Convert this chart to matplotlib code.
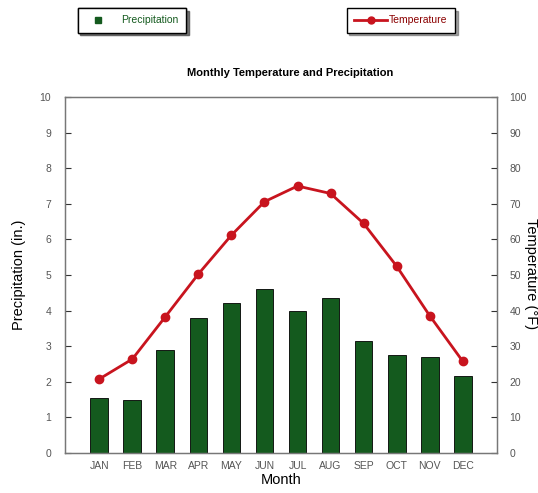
import matplotlib.pyplot as plt
import numpy as np
from matplotlib.lines import Line2D

plt.rcParams.update({
    "font.family": ["Liberation Sans", "DejaVu Sans"],
    "font.size": 8,
})

months = ["JAN", "FEB", "MAR", "APR", "MAY", "JUN",
          "JUL", "AUG", "SEP", "OCT", "NOV", "DEC"]
precip = [1.55, 1.48, 2.88, 3.80, 4.21, 4.61, 4.00, 4.36, 3.14, 2.75, 2.71, 2.15]
temp = [20.8, 26.4, 38.3, 50.3, 61.2, 70.6, 75.0, 72.9, 64.5, 52.5, 38.6, 25.8]

bar_color = "#145a1e"
line_color = "#c8141e"
tick_gray = "#555555"

fig = plt.figure(figsize=(5.38, 4.93), dpi=100)
ax = fig.add_axes([0.1208, 0.0811, 0.803, 0.7221])
x = np.arange(len(months))

ax.bar(x, precip, width=0.54, color=bar_color, edgecolor="black", linewidth=0.6, zorder=2)
ax.set_xlim(-1.04, 12.04)
ax.set_ylim(0, 10)
ax.set_yticks(range(0, 11))
ax.set_xticks(x)
ax.set_xticklabels(months)
ax.tick_params(axis="x", length=0, pad=6, labelsize=7.5, labelcolor=tick_gray)
ax.tick_params(axis="y", direction="in", length=4, pad=10, labelsize=7.5,
               labelcolor=tick_gray, color="#333333")
ax.set_xlabel("Month", fontsize=10.5, labelpad=1)
ax.set_ylabel("Precipitation (in.)", fontsize=10.5, labelpad=10)
for s in ax.spines.values():
    s.set_color("#777777")
    s.set_linewidth(1.0)

ax2 = ax.twinx()
ax2.plot(x, temp, color=line_color, linewidth=2, marker="o", markersize=6,
         markerfacecolor=line_color, markeredgecolor=line_color, zorder=3)
ax2.set_ylim(0, 100)
ax2.set_yticks(range(0, 101, 10))
ax2.tick_params(axis="y", direction="in", length=4, pad=9, labelsize=7.5,
                labelcolor=tick_gray, color="#333333")
for s in ax2.spines.values():
    s.set_color("#777777")

# right axis label sits at the very edge of the figure
fig.text(0.974, 0.445, "Temperature (°F)", rotation=270, ha="left", va="center",
         fontsize=10.5)

fig.text(0.54, 0.852, "Monthly Temperature and Precipitation", ha="center",
         va="center", fontsize=8, fontweight="bold")

# two separate legends at the top
h1 = Line2D([], [], linestyle="none", marker="s", markersize=5,
            markerfacecolor=bar_color, markeredgecolor=bar_color)
h2 = Line2D([], [], color=line_color, linewidth=2, marker="o", markersize=5)
leg1 = fig.legend([h1], ["Precipitation"], loc="center", bbox_to_anchor=(0.245, 0.959),
                  frameon=True, fancybox=False, shadow=True, edgecolor="black",
                  fontsize=7.5, labelcolor=bar_color, handlelength=2.6,
                  borderpad=0.7, borderaxespad=0, handletextpad=0.9)
leg2 = fig.legend([h2], ["Temperature"], loc="center", bbox_to_anchor=(0.745, 0.959),
                  frameon=True, fancybox=False, shadow=True, edgecolor="black",
                  fontsize=7.5, labelcolor="#8b0000", handlelength=3.2,
                  borderpad=0.7, borderaxespad=0, handletextpad=0.2)
fig.add_artist(leg1)

fig.savefig("out.png", dpi=100)
